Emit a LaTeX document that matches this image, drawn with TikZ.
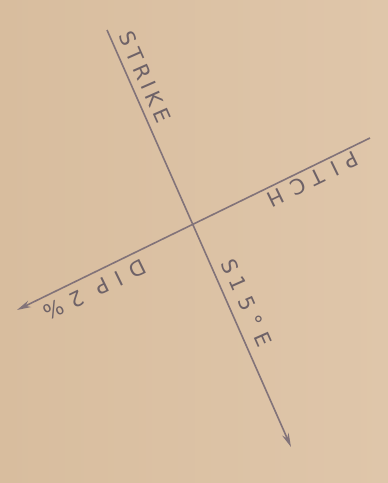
\documentclass[tikz,border=0pt]{standalone}
\usepackage{fontspec}
\newfontfamily\handfont[LetterSpace=22]{DejaVu Sans}
\usetikzlibrary{arrows.meta}
\definecolor{paperleft}{RGB}{216, 189, 158}
\definecolor{paperright}{RGB}{223, 198, 170}
\definecolor{inkgray}{RGB}{130, 115, 121}

\begin{document}
\begin{tikzpicture}[x=1pt, y=-1pt,
  axis/.style={draw=inkgray, line width=1.6pt, -{Stealth[length=14pt, width=7pt]}},
  lettering/.style={sloped, inner sep=1pt, text=inkgray!85!black, font=\handfont\fontsize{21}{24}\selectfont}
]
  % paper
  \shade[left color=paperleft, right color=paperright] (0,0) rectangle (388,483);
  \useasboundingbox (0,0) rectangle (388,483);

  % end points of the two lines
  \coordinate (strikeN) at (107,30);
  \coordinate (strikeS) at (291,447);
  \coordinate (dipE) at (370,138);
  \coordinate (dipW) at (17,310);

  % strike line
  \draw[axis] (strikeN)
    -- node[lettering, pos=0.128, above=6pt] (strike) {STRIKE}
       node[lettering, pos=0.672, above=8pt] (bearing) {\addfontfeature{LetterSpace=38}S\hspace{6pt}15°E}
    (strikeS);

  % dip line
  \draw[axis] (dipE)
    -- node[lettering, allow upside down, pos=0.177, above=2.5pt] (pitch) {\addfontfeature{LetterSpace=45}PITCH}
       node[lettering, allow upside down, pos=0.80, above=6.5pt] (dip) {\addfontfeature{LetterSpace=43}DIP 2\%}
    (dipW);
\end{tikzpicture}
\end{document}
